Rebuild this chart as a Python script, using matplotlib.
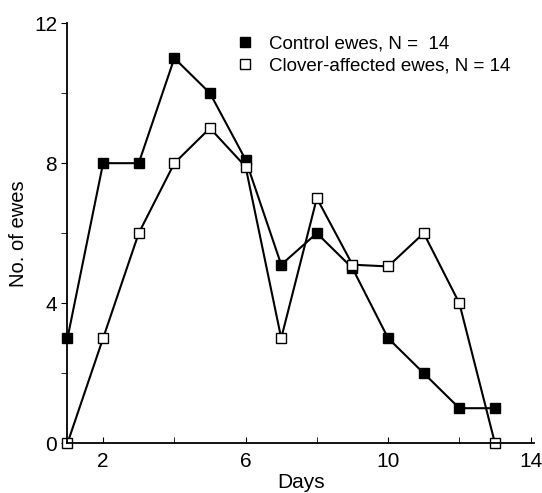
import matplotlib.pyplot as plt
from matplotlib.lines import Line2D
from matplotlib.ticker import MultipleLocator

days = [1, 2, 3, 4, 5, 6, 7, 8, 9, 10, 11, 12, 13]
control = [3, 8, 8, 11, 10, 8.1, 5.1, 6, 5, 3, 2, 1, 1]
clover = [0, 3, 6, 8, 9, 7.9, 3, 7, 5.1, 5.05, 6, 4, 0]
labels = ['Control ewes, N =  14', 'Clover-affected ewes, N = 14']

plt.rcParams['font.family'] = ['Liberation Sans', 'DejaVu Sans']

fig = plt.figure(figsize=(5.42, 4.93), dpi=100)
ax = fig.add_axes([0.1245, 0.101, 0.861, 0.852])

ax.plot(days, control, '-s', color='black', markerfacecolor='black',
        markersize=6.5, linewidth=1.5, clip_on=False)
ax.plot(days, clover, '-s', color='black', markerfacecolor='white',
        markersize=6.5, linewidth=1.5, clip_on=False)

ax.set_xlim(1, 14.1)
ax.set_ylim(0, 12)
ax.set_xticks([2, 6, 10, 14])
ax.set_xticks([4, 8, 12], minor=True)
ax.yaxis.set_major_locator(MultipleLocator(4))
ax.yaxis.set_minor_locator(MultipleLocator(2))

ax.spines['top'].set_visible(False)
ax.spines['right'].set_visible(False)
ax.spines['left'].set_linewidth(1.3)
ax.spines['bottom'].set_linewidth(1.3)
ax.tick_params(axis='x', which='both', direction='in', length=4, labelsize=15, pad=6)
ax.tick_params(axis='y', which='both', direction='out', length=4, labelsize=15)

ax.set_xlabel('Days', fontsize=15, labelpad=2)
ax.set_ylabel('No. of ewes', fontsize=14.5, labelpad=4)

handles = [Line2D([], [], marker='s', linestyle='none', color='black',
                  markerfacecolor='black', markersize=7),
           Line2D([], [], marker='s', linestyle='none', color='black',
                  markerfacecolor='white', markersize=7)]
ax.legend(handles, labels, loc='upper right', bbox_to_anchor=(0.985, 1.01), frameon=False,
          fontsize=13.5, handlelength=0.8, handletextpad=0.9, labelspacing=0.25)

fig.savefig('out.png', dpi=100)
